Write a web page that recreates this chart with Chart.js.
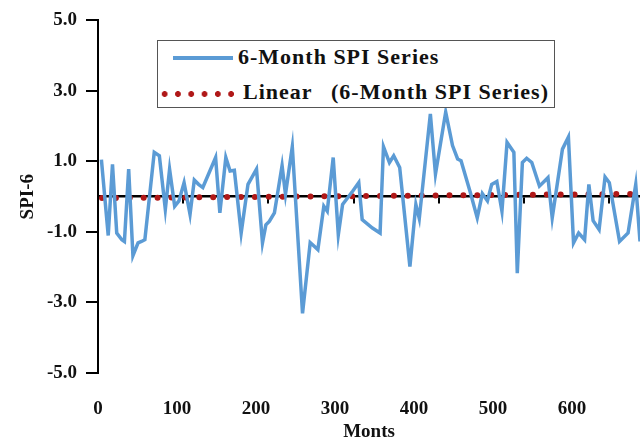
<!DOCTYPE html>
<html>
<head>
<meta charset="utf-8">
<script src="https://cdn.jsdelivr.net/npm/chart.js@4.4.1/dist/chart.umd.min.js"></script>
<style>
  body { margin: 0; background: #fff; }
  #wrap { position: relative; width: 640px; height: 443px; }
  #legend {
    position: absolute; left: 157px; top: 40px; width: 396px; height: 66px;
    border: 1px solid #555; background: #fff;
    font: bold 22px "Liberation Serif", serif; color: #111; letter-spacing: 1px;
  }
  #legend span { position: absolute; white-space: nowrap; line-height: 22px; }
  .blueLine { position: absolute; left: 15px; top: 15px; width: 60px; height: 4px; background: #5B9BD5; }
  .redDots {
    position: absolute; left: 0px; top: 50px; width: 76px; height: 6px;
    background: radial-gradient(circle, #B01818 2.6px, transparent 3.2px) repeat-x;
    background-size: 13.3px 6px;
  }
</style>
</head>
<body>
<div id="wrap">
  <canvas id="chart" width="640" height="443"></canvas>
  <div id="legend">
    <div class="blueLine"></div>
    <span style="left:80px; top:5px;">6-Month SPI Series</span>
    <div class="redDots"></div>
    <span style="left:85px; top:40px;">Linear</span>
    <span style="left:173px; top:40px;">(6-Month SPI Series)</span>
  </div>
</div>
<script>
// month index and SPI-6 values
const months = [4, 12, 17, 22, 28, 31, 36, 41, 47, 51, 55, 66, 72, 79, 84, 90, 95, 101, 108, 113,
  118, 123, 138, 143, 150, 155, 160, 168, 176, 186, 193, 197, 201, 207, 216, 220, 228, 240, 249, 258,
  265, 269, 276, 282, 287, 293, 299, 306, 310, 322, 331, 335, 342, 347, 354, 366, 373, 377, 390, 396,
  408, 416, 422, 426, 437, 445, 451, 457, 462, 468, 474, 480, 488, 492, 498, 503, 509, 518, 528, 533,
  545, 552, 558, 564, 571, 576, 581, 588, 595, 600, 612, 622, 631, 636];
const spi = [1.05, -1.1, 0.92, -1.03, -1.22, -1.27, 0.78, -1.67, -1.31, -1.27, -1.22, 1.26, 1.16, -0.36, 0.78, -0.27, -0.12, 0.4, -0.5, 0.47,
  0.35, 0.26, 1.11, -0.46, 1.11, 0.73, 0.75, -1.03, 0.35, 0.78, -1.31, -0.8, -0.7, -0.46, 0.88, 0.07, 1.42, -3.31, -1.3, -1.5,
  -0.27, -0.41, 1.11, -1.08, -0.22, -0.03, 0.16, 0.4, -0.65, -0.89, -1.03, 1.42, 0.97, 1.16, 0.83, -1.98, -0.22, -0.62, 2.35, 0.64,
  2.4, 1.45, 1.07, 1.02, 0.11, -0.6, 0.09, -0.12, 0.35, 0.43, -0.41, 1.54, 1.26, -2.17, 0.97, 1.09, 0.97, 0.3, 0.54, -0.6,
  1.35, 1.69, -1.31, -1.03, -1.22, 0.35, -0.68, -0.93, 0.56, 0.4, -1.27, -1.03, 0.35, -1.27];

// linear trend end points
const trendX = [0, 636];
const trendY = [-0.04, 0.08];

const yTicks = [-5, -3, -1, 1, 3, 5];
const xTicks = [0, 100, 200, 300, 400, 500, 600];

const font = { family: '"Liberation Serif", serif', size: 19, weight: 'bold' };
const titleFont = { family: '"Liberation Serif", serif', size: 19, weight: 'bold' };

const ctx = document.getElementById('chart').getContext('2d');
new Chart(ctx, {
  type: 'line',
  data: {
    datasets: [
      {
        label: '6-Month SPI Series',
        data: months.map((m, i) => ({ x: m, y: spi[i] })),
        xAxisID: 'xd',
        borderColor: '#5B9BD5',
        borderWidth: 3.5,
        pointRadius: 0,
        tension: 0
      },
      {
        label: 'Linear (6-Month SPI Series)',
        data: trendX.map((m, i) => ({ x: m, y: trendY[i] })),
        xAxisID: 'xd',
        borderColor: '#B01818',
        borderWidth: 6,
        borderDash: [0, 13.9],
        borderDashOffset: -4,
        borderCapStyle: 'round',
        pointRadius: 0
      }
    ]
  },
  options: {
    responsive: false,
    animation: false,
    layout: { padding: { top: 10, right: 0, left: 0, bottom: 0 } },
    plugins: { legend: { display: false }, tooltip: { enabled: false } },
    scales: {
      x: {
        type: 'linear',
        position: 'bottom',
        min: 0,
        max: 686,
        afterFit: s => { s.height = 70; },
        afterBuildTicks: s => { s.ticks = xTicks.map(v => ({ value: v })); },
        grid: { display: false },
        border: { display: false },
        ticks: { font, color: '#111', padding: 17, maxRotation: 0 },
        title: { display: true, text: 'Monts', font: titleFont, color: '#111', padding: 0 }
      },
      xd: {
        type: 'linear',
        position: { y: 0 },
        min: 0,
        max: 636,
        afterBuildTicks: s => { s.ticks = xTicks.map(v => ({ value: v })); },
        ticks: { display: false },
        grid: { drawOnChartArea: false, tickLength: 6, color: '#000', lineWidth: 2 },
        border: { color: '#000', width: 2.5 }
      },
      y: {
        min: -5,
        max: 5,
        afterFit: s => { s.width = 98; },
        afterBuildTicks: s => { s.ticks = yTicks.map(v => ({ value: v })); },
        grid: { drawOnChartArea: false, tickLength: 12, color: '#000', lineWidth: 2 },
        border: { color: '#000', width: 2 },
        ticks: { font, color: '#111', padding: 9, callback: v => v.toFixed(1) },
        title: { display: true, text: 'SPI-6', font: titleFont, color: '#111', padding: 17 }
      }
    }
  }
});
</script>
</body>
</html>
